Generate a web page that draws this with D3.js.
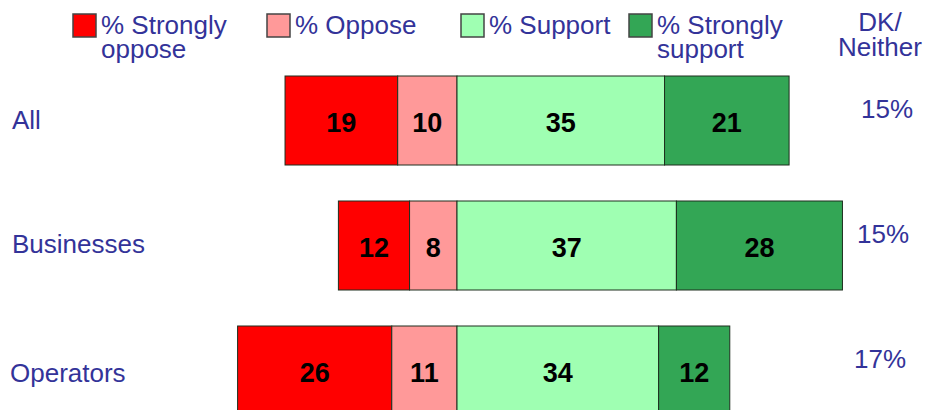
<!DOCTYPE html>
<html>
<head>
<meta charset="utf-8">
<script src="https://cdn.jsdelivr.net/npm/d3@7"></script>
<style>
  body { margin: 0; background: #fff; }
  svg { display: block; font-family: "Liberation Sans", Arial, sans-serif; }
</style>
</head>
<body>
<div id="chart"></div>
<script>
// groups and their answers (percent)
var groups = ["All", "Businesses", "Operators"];
var stronglyOppose = [19, 12, 26];
var oppose = [10, 8, 11];
var support = [35, 37, 34];
var stronglySupport = [21, 28, 12];
var dkNeither = ["15%", "15%", "17%"];

var seriesNames = ["% Strongly|oppose", "% Oppose", "% Support", "% Strongly|support"];
var colors = ["#ff0000", "#ff9999", "#9fffb2", "#33a655"];
var textBlue = "#333399";

var width = 925, height = 410;

var svg = d3.select("#chart").append("svg")
    .attr("width", width)
    .attr("height", height);

// zero sits between oppose and support
var x = d3.scaleLinear().domain([-40, 70]).range([457 - 40 * 5.93, 457 + 70 * 5.93]);
var y = d3.scaleBand().domain(groups).range([76, 415]).paddingInner(0.288).paddingOuter(0);

// build segments for each row
var rows = groups.map(function(g, i) {
    var segs = [];
    var vals = [stronglyOppose[i], oppose[i], support[i], stronglySupport[i]];
    var start = -(stronglyOppose[i] + oppose[i]);
    vals.forEach(function(v, k) {
        segs.push({group: g, k: k, v: v, x0: start, x1: start + v});
        start += v;
    });
    return segs;
});

var seg = svg.append("g").selectAll("g")
    .data(d3.merge(rows))
    .enter().append("g");

seg.append("rect")
    .attr("x", function(d) { return x(d.x0); })
    .attr("y", function(d) { return y(d.group); })
    .attr("width", function(d) { return x(d.x1) - x(d.x0); })
    .attr("height", y.bandwidth())
    .attr("fill", function(d) { return colors[d.k]; })
    .attr("stroke", "#1e2e1e")
    .attr("stroke-width", 1);

seg.append("text")
    .attr("x", function(d) { return (x(d.x0) + x(d.x1)) / 2; })
    .attr("y", function(d) { return y(d.group) + y.bandwidth() / 2 + 11; })
    .attr("text-anchor", "middle")
    .style("font-size", "27px")
    .style("font-weight", "bold")
    .attr("fill", "#000")
    .text(function(d) { return d.v; });

// group labels (left)
var labelDy = [53, 52, 56];
svg.append("g").selectAll("text")
    .data(groups)
    .enter().append("text")
    .attr("x", function(d, i) { return i == 2 ? 10 : 12; })
    .attr("y", function(d, i) { return y(d) + labelDy[i]; })
    .attr("fill", textBlue)
    .style("font-size", "26px")
    .text(function(d) { return d; });

// DK / Neither column
svg.append("g").selectAll("text")
    .data(dkNeither)
    .enter().append("text")
    .attr("x", function(d, i) { return [887, 883, 880][i]; })
    .attr("y", function(d, i) { return y(groups[i]) + 42; })
    .attr("text-anchor", "middle")
    .attr("fill", textBlue)
    .style("font-size", "26px")
    .text(function(d) { return d; });

// legend
var legendX = [73, 267, 461, 629];
var leg = svg.append("g").selectAll("g")
    .data(seriesNames)
    .enter().append("g")
    .attr("transform", function(d, i) { return "translate(" + legendX[i] + ",14)"; });

leg.append("rect")
    .attr("width", 23)
    .attr("height", 23)
    .attr("fill", function(d, i) { return colors[i]; })
    .attr("stroke", "#444")
    .attr("stroke-width", 1.5);

leg.append("text")
    .attr("fill", textBlue)
    .style("font-size", "26px")
    .selectAll("tspan")
    .data(function(d) { return d.split("|"); })
    .enter().append("tspan")
    .attr("x", 28)
    .attr("y", function(d, j) { return 20 + j * 24; })
    .text(function(d) { return d; });

var dk = svg.append("text")
    .attr("fill", textBlue)
    .attr("text-anchor", "middle")
    .style("font-size", "26px");
dk.append("tspan").attr("x", 880).attr("y", 31).text("DK/");
dk.append("tspan").attr("x", 880).attr("y", 56).text("Neither");
</script>
</body>
</html>
